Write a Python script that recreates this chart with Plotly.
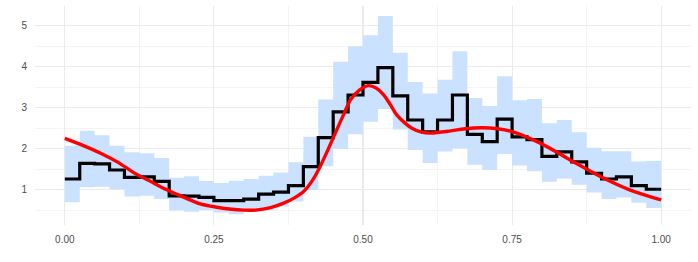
import numpy as np
import plotly.graph_objects as go

# 40 equal-width bins on [0, 1]
n_bins = 40
bin_edges = np.linspace(0.0, 1.0, n_bins + 1)

# Step (histogram) estimate per bin
step_values = [1.26, 1.64, 1.63, 1.48, 1.30, 1.31, 1.20, 0.85, 0.84, 0.81,
               0.73, 0.73, 0.77, 0.89, 0.94, 1.10, 1.56, 2.27, 2.90, 3.31,
               3.62, 3.98, 3.29, 2.70, 2.41, 2.70, 3.31, 2.35, 2.17, 2.72,
               2.29, 2.22, 1.81, 1.92, 1.68, 1.40, 1.26, 1.31, 1.10, 1.01]

# Confidence band per bin
band_upper = [2.07, 2.44, 2.33, 2.07, 1.91, 1.89, 1.77, 1.29, 1.33, 1.21,
              1.16, 1.22, 1.26, 1.34, 1.42, 1.67, 2.29, 3.20, 4.12, 4.50,
              4.77, 5.24, 4.34, 3.63, 3.35, 3.68, 4.38, 3.24, 3.04, 3.77,
              3.18, 3.21, 2.62, 2.70, 2.40, 2.02, 1.94, 1.94, 1.69, 1.70]
band_lower = [0.69, 1.06, 1.07, 1.01, 0.83, 0.85, 0.77, 0.49, 0.46, 0.50,
              0.44, 0.40, 0.46, 0.50, 0.59, 0.71, 0.99, 1.57, 1.99, 2.35,
              2.66, 2.97, 2.47, 1.97, 1.65, 1.93, 2.01, 1.61, 1.48, 1.87,
              1.59, 1.45, 1.19, 1.27, 1.12, 0.93, 0.77, 0.81, 0.68, 0.55]

# Smooth density curve (red)
curve_x = [0.00, 0.03, 0.06, 0.09, 0.116, 0.145, 0.172, 0.20, 0.227, 0.255,
           0.28, 0.30, 0.32, 0.345, 0.367, 0.385, 0.40, 0.415, 0.428, 0.442,
           0.456, 0.468, 0.479, 0.494, 0.509, 0.522, 0.535, 0.546, 0.557,
           0.57, 0.582, 0.597, 0.613, 0.64, 0.668, 0.70, 0.747, 0.798, 0.848,
           0.898, 0.948, 1.00]
curve_y = [2.25, 2.08, 1.89, 1.66, 1.41, 1.19, 0.99, 0.81, 0.65, 0.57,
           0.52, 0.50, 0.50, 0.56, 0.67, 0.80, 0.95, 1.22, 1.56, 2.00,
           2.46, 2.85, 3.19, 3.43, 3.54, 3.48, 3.31, 3.07, 2.82,
           2.63, 2.50, 2.41, 2.38, 2.42, 2.48, 2.51, 2.43, 2.13, 1.72,
           1.32, 0.99, 0.75]

x_ticks = [0.0, 0.25, 0.5, 0.75, 1.0]
x_ticklabels = ["0.00", "0.25", "0.50", "0.75", "1.00"]
y_ticks = [1, 2, 3, 4, 5]
y_ticklabels = ["1", "2", "3", "4", "5"]


def step_y(vals):
    return list(vals) + [vals[-1]]


x_edges = list(bin_edges)
band_color = "#CAE1FF"

fig = go.Figure()
fig.add_trace(go.Scatter(x=x_edges, y=step_y(band_lower), mode="lines",
                         line=dict(shape="hv", width=0, color=band_color),
                         hoverinfo="skip", showlegend=False))
fig.add_trace(go.Scatter(x=x_edges, y=step_y(band_upper), mode="lines",
                         line=dict(shape="hv", width=0, color=band_color),
                         fill="tonexty", fillcolor=band_color,
                         hoverinfo="skip", showlegend=False))
fig.add_trace(go.Scatter(x=x_edges, y=step_y(step_values), mode="lines",
                         line=dict(shape="hv", width=3.2, color="black"),
                         hoverinfo="skip", showlegend=False))
fig.add_trace(go.Scatter(x=curve_x, y=curve_y, mode="lines",
                         line=dict(shape="spline", smoothing=0.8, width=3.4, color="#FF0000"),
                         hoverinfo="skip", showlegend=False))

grid_color = "#EBEBEB"
tick_font = dict(family="Liberation Sans, Arial, sans-serif", size=10, color="#4D4D4D")

fig.update_layout(
    width=698, height=262,
    margin=dict(l=35, r=7, t=6, b=37),
    paper_bgcolor="white", plot_bgcolor="white",
    showlegend=False,
    xaxis=dict(range=[-0.05, 1.05], tickmode="array", tickvals=x_ticks,
               ticktext=x_ticklabels, showgrid=True, gridcolor=grid_color,
               gridwidth=1.1, zeroline=False, showline=False, automargin=False,
               ticks="outside", ticklen=5, tickcolor="rgba(0,0,0,0)",
               tickfont=tick_font,
               minor=dict(showgrid=True, gridcolor=grid_color, gridwidth=0.55,
                          tickvals=[0.125, 0.375, 0.625, 0.875])),
    yaxis=dict(range=[0.137, 5.483], tickmode="array", tickvals=y_ticks,
               ticktext=y_ticklabels, showgrid=True, gridcolor=grid_color,
               gridwidth=1.1, zeroline=False, showline=False, automargin=False,
               ticks="outside", ticklen=5, tickcolor="rgba(0,0,0,0)",
               tickfont=tick_font,
               minor=dict(showgrid=True, gridcolor=grid_color, gridwidth=0.55,
                          tickvals=[0.5, 1.5, 2.5, 3.5, 4.5])),
)

fig.write_html("out.html",
               config={"displayModeBar": False, "staticPlot": True},
               post_script="document.body.style.margin='0';document.body.style.overflow='hidden';")
